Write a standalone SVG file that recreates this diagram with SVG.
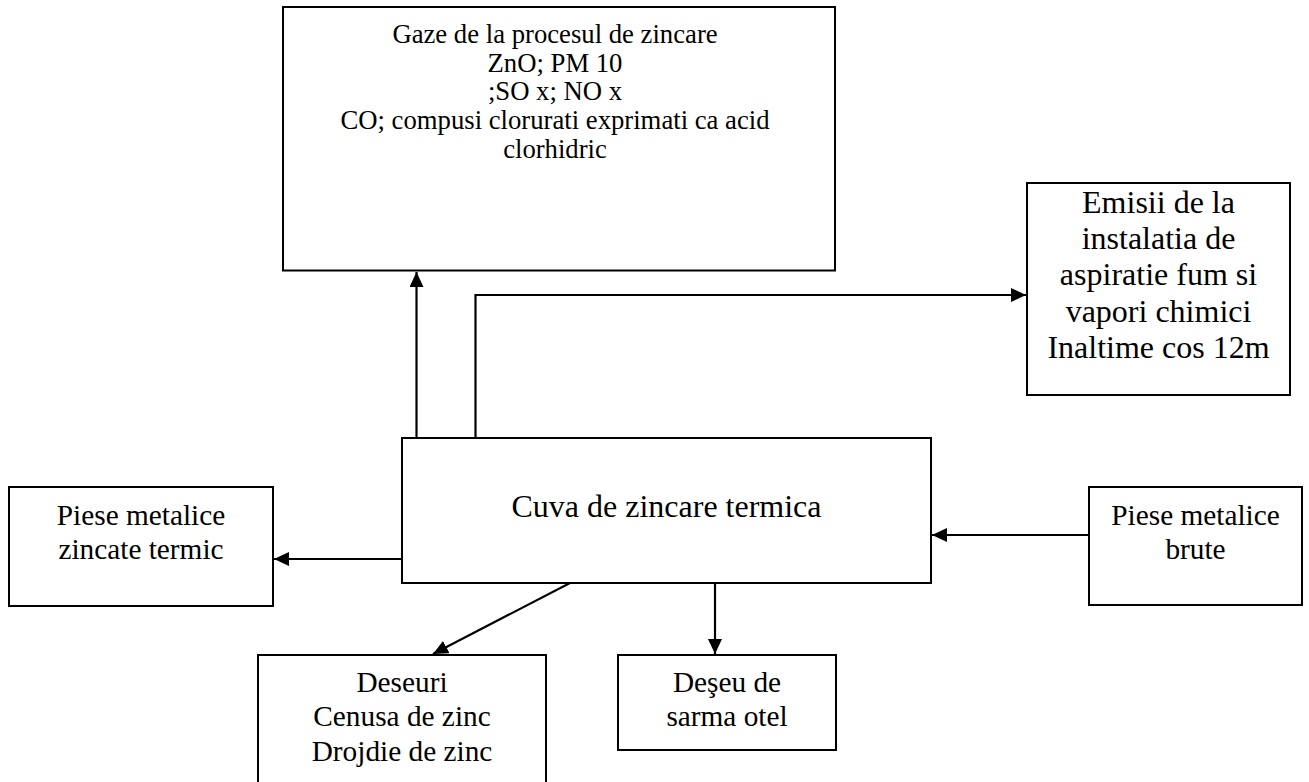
<svg xmlns="http://www.w3.org/2000/svg" width="1309" height="782" viewBox="0 0 1309 782">
<style>
.box{fill:#fff;stroke:#000;stroke-width:2}
text{font-family:"Liberation Serif","Times New Roman",serif;fill:#000;text-anchor:middle}
.s20{font-size:26.7px}
.s22{font-size:29.3px}
.s24{font-size:32px}
.c{fill:none;stroke:#000;stroke-width:2.2}
</style>
<defs>
<marker id="ah" markerUnits="userSpaceOnUse" markerWidth="16" markerHeight="14" refX="15" refY="7" orient="auto">
<path d="M0,0 L15,7 L0,14 z" fill="#000"/>
</marker>
</defs>
<rect width="1309" height="782" fill="#fff"/>
<g id="connectors">
<path class="c" d="M416.5,438 V272" marker-end="url(#ah)"/>
<path class="c" d="M475.5,438 V295 H1026" marker-end="url(#ah)"/>
<path class="c" d="M402,559 H274" marker-end="url(#ah)"/>
<path class="c" d="M1089,535 H932" marker-end="url(#ah)"/>
<path class="c" d="M570,583 L433,654" marker-end="url(#ah)"/>
<path class="c" d="M715,583 V654" marker-end="url(#ah)"/>
</g>
<g id="gaze">
<rect class="box" x="283" y="7" width="552" height="263.5"/>
<text class="s20" x="555" y="43">Gaze de la procesul de zincare</text>
<text class="s20" x="555" y="72">ZnO; PM 10</text>
<text class="s20" x="555" y="100">;SO x; NO x</text>
<text class="s20" x="555" y="129">CO; compusi clorurati exprimati ca acid</text>
<text class="s20" x="555" y="158">clorhidric</text>
</g>
<g id="emisii">
<rect class="box" x="1027" y="183" width="263" height="212"/>
<text class="s24" x="1158.5" y="213">Emisii de la</text>
<text class="s24" x="1158.5" y="249">instalatia de</text>
<text class="s24" x="1158.5" y="285">aspiratie fum si</text>
<text class="s24" x="1158.5" y="322">vapori chimici</text>
<text class="s24" x="1158.5" y="358">Inaltime cos 12m</text>
</g>
<g id="cuva">
<rect class="box" x="402" y="438" width="529" height="145"/>
<text class="s24" x="666.5" y="517">Cuva de zincare termica</text>
</g>
<g id="piese-zincate">
<rect class="box" x="9" y="487" width="264" height="119"/>
<text class="s22" x="141" y="525">Piese metalice</text>
<text class="s22" x="141" y="559">zincate termic</text>
</g>
<g id="piese-brute">
<rect class="box" x="1089" y="487" width="213" height="118"/>
<text class="s22" x="1195.5" y="525">Piese metalice</text>
<text class="s22" x="1195.5" y="559">brute</text>
</g>
<g id="deseuri">
<rect class="box" x="258" y="655" width="288" height="140"/>
<text class="s22" x="402" y="692">Deseuri</text>
<text class="s22" x="402" y="726">Cenusa de zinc</text>
<text class="s22" x="402" y="761">Drojdie de zinc</text>
</g>
<g id="deseu-sarma">
<rect class="box" x="618" y="655" width="218" height="95"/>
<text class="s22" x="727" y="692">Deşeu de</text>
<text class="s22" x="727" y="726">sarma otel</text>
</g>
</svg>
